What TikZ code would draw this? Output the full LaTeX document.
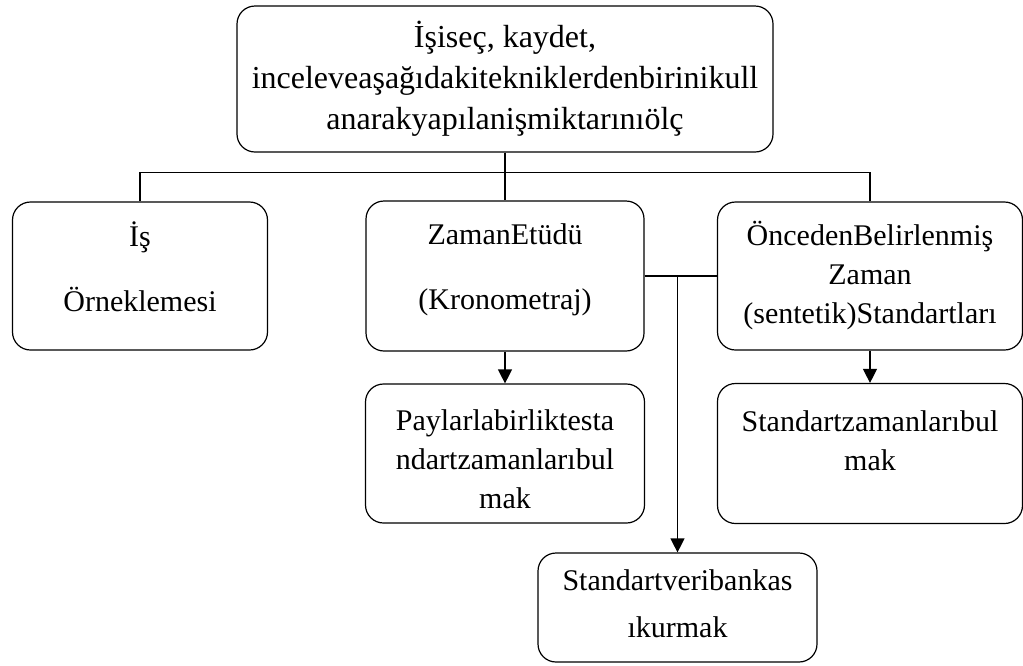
\documentclass[tikz,border=0pt]{standalone}
\usepackage{fontspec}
\setmainfont{Liberation Serif}
\usepackage{tikz}
\usetikzlibrary{arrows.meta}

\begin{document}
\begin{tikzpicture}[x=1pt,y=1pt,
    box/.style={draw,rounded corners=18pt,line width=1.2pt,align=center,inner sep=0pt,
        font=\fontsize{30}{39}\selectfont},
    arrow/.style={line width=1.2pt,-{Triangle[length=14pt,width=14pt]}},
    edge from parent/.style={draw,line width=1.2pt},
    level 1/.style={sibling distance=365pt,level distance=197pt,
        edge from parent path={(\tikzparentnode.south) -- ++(0,-20) -| (\tikzchildnode.north)}},
    level 2/.style={level distance=177.5pt,
        edge from parent/.style={draw,arrow},
        edge from parent path={(\tikzparentnode.south) -- (\tikzchildnode.north)}}]
    \useasboundingbox (0,0) rectangle (1023,-665);
    \node[box,minimum width=536pt,minimum height=146pt,font=\fontsize{32}{41}\selectfont](olc) at (505,-79)
        {İşiseç, kaydet,\\inceleveaşağıdakitekniklerdenbirinikull\\anarakyapılanişmiktarınıölç}
        child{
            node[box,minimum width=255pt,minimum height=148pt,text depth=19pt](ornek){İş\\[26pt]Örneklemesi}
        }
        child{
            node[box,minimum width=278pt,minimum height=150pt,text depth=19pt](zaman){ZamanEtüdü\\[26pt](Kronometraj)}
            child{
                node[box,minimum width=279pt,minimum height=139pt,text height=111pt](pay)
                    {Paylarlabirliktesta\\ndartzamanlarıbul\\mak}
            }
        }
        child{
            node[box,minimum width=305pt,minimum height=148pt](sentetik)
                {ÖncedenBelirlenmiş\\Zaman\\(sentetik)Standartları}
            child{
                node[box,minimum width=305pt,minimum height=140pt,text height=123pt](stdzaman)
                    {Standartzamanlarıbul\\mak\\\strut}
            }
        };
    % veri bankasi
    \node[box,minimum width=279pt,minimum height=109pt,text depth=8pt](banka) at (677.5,-607.5)
        {Standartveribankas\\[8pt]ıkurmak};
    \draw[line width=1.2pt] (zaman.east) -- (sentetik.west);
    \coordinate (kol) at (banka.north |- zaman.east);
    \draw[arrow] (kol) -- (banka.north);
\end{tikzpicture}
\end{document}
